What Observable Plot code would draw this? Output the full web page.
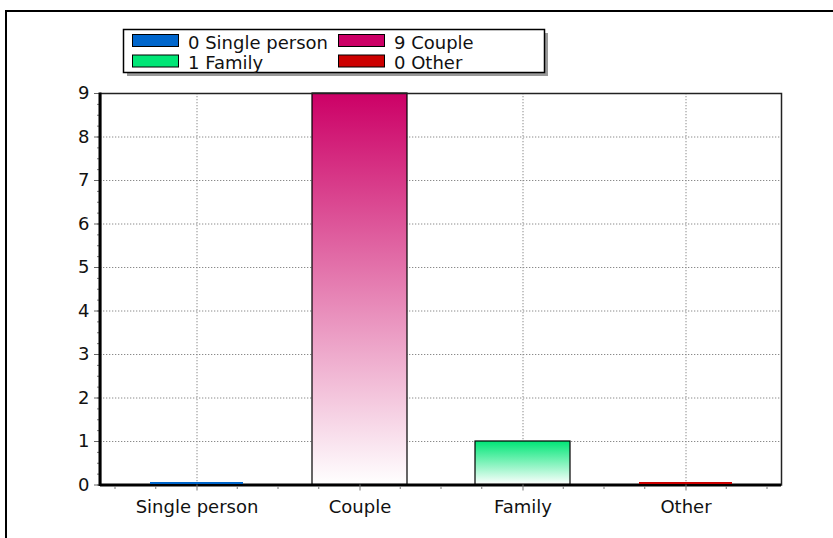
<!DOCTYPE html>
<html><head><meta charset="utf-8">
<script src="https://cdn.jsdelivr.net/npm/d3@7"></script>
<script src="https://cdn.jsdelivr.net/npm/@observablehq/plot@0.6"></script>
<style>
html,body{margin:0;padding:0;background:#fff;overflow:hidden;}
#chart{position:relative;width:833px;height:538px;overflow:hidden;}
</style></head><body>
<svg id="defs" width="0" height="0" style="position:absolute"><defs></defs></svg>
<div id="chart"></div>
<script>
const categories = ["Single person", "Couple", "Family", "Other"];
const counts = [0, 9, 1, 0];
const colors = ["#0066cc", "#cc0066", "#00e676", "#cc0000"];
const yTicks = [0, 1, 2, 3, 4, 5, 6, 7, 8, 9];
const legendLabels = categories.map((c, i) => `${counts[i]} ${c}`);

const FONT = "'DejaVu Sans', Verdana, sans-serif";

// gradients (top colour -> white)
const defs = d3.select("#defs defs");
colors.forEach((c, i) => {
  const g = defs.append("linearGradient").attr("id", "grad" + i)
    .attr("x1", 0).attr("y1", 0).attr("x2", 0).attr("y2", 1);
  g.append("stop").attr("offset", 0).attr("stop-color", c);
  g.append("stop").attr("offset", 1).attr("stop-color", "#ffffff");
});

const data = categories.map((c, i) => ({category: c, count: counts[i], color: colors[i], fill: `url(#grad${i})`}));
const minorY = d3.range(0, 9.001, 0.25);

const chart = Plot.plot({
  width: 833, height: 538,
  marginTop: 93, marginBottom: 53.5, marginLeft: 100, marginRight: 52,
  style: {fontFamily: FONT, fontSize: "18px", color: "#111", background: "transparent"},
  x: {domain: categories, padding: 0, insetLeft: 14, insetRight: 13, label: null},
  y: {domain: [0, 9], label: null},
  color: {type: "identity"},
  marks: [
    Plot.gridY(yTicks, {stroke: "#8a8a8a", strokeOpacity: 1, strokeDasharray: "1.3,1.7"}),
    Plot.gridX({stroke: "#8a8a8a", strokeOpacity: 1, strokeDasharray: "1.3,1.7"}),
    Plot.barY(data.filter(d => d.count > 0), {x: "category", y: "count", fill: "fill", stroke: "#000", strokeWidth: 1.2, insetLeft: 34, insetRight: 34}),
    Plot.frame({stroke: "#222", strokeWidth: 1.5}),
    Plot.ruleY([0], {stroke: "#000", strokeWidth: 3}),
    Plot.tickY(data.filter(d => d.count === 0), {x: "category", y: "count", stroke: "color", strokeWidth: 1.8, insetLeft: 35, insetRight: 35, dy: -2}),
    Plot.axisY(minorY, {tickSize: 3, tickFormat: () => "", stroke: "#777", label: null}),
    Plot.axisY(yTicks, {tickSize: 6, tickPadding: 5, stroke: "#666", label: null}),
    Plot.axisX({tickSize: 6, tickPadding: 9, stroke: "#777", label: null})
  ]
});

document.getElementById("chart").appendChild(chart);
const svg = d3.select(chart);

// minor x ticks at quarter-band positions
const xs = chart.scale("x");
const bw = xs.bandwidth;
const minorX = [];
categories.forEach((c, i) => {
  const s = xs.apply(c);
  minorX.push(s, s + bw / 4, s + 3 * bw / 4);
  if (i === categories.length - 1) minorX.push(s + bw);
});
svg.append("g").selectAll("line").data(minorX).join("line")
  .attr("x1", d => d).attr("x2", d => d).attr("y1", 486).attr("y2", 489)
  .attr("stroke", "#777").attr("stroke-width", 1);

// thick left axis line
svg.append("line").attr("x1", 100).attr("x2", 100).attr("y1", 92.5).attr("y2", 486)
  .attr("stroke", "#000").attr("stroke-width", 3);

// outer frame (only top and left edges are inside the picture)
svg.append("path").attr("d", "M6,545V11H840")
  .attr("fill", "none").attr("stroke", "#000").attr("stroke-width", 2);

// legend
const lg = svg.append("g").attr("font-family", FONT).attr("font-size", 18).attr("text-anchor", "start");
lg.append("rect").attr("x", 127).attr("y", 33).attr("width", 421).attr("height", 43)
  .attr("fill", "#999");
lg.append("rect").attr("x", 123.5).attr("y", 29.5).attr("width", 421).attr("height", 43)
  .attr("fill", "#fff").attr("stroke", "#000").attr("stroke-width", 1.5);
const order = [0, 1, 2, 3];
const colX = [132, 338], rowY = [34, 54.5];
order.forEach((k, j) => {
  const x = colX[j % 2], y = rowY[Math.floor(j / 2)];
  lg.append("rect").attr("x", x + 0.5).attr("y", y + 0.5).attr("width", 46).attr("height", 12)
    .attr("fill", colors[k]).attr("stroke", "#000").attr("stroke-width", 1);
  lg.append("text").attr("x", x + 56).attr("y", y + 14.5).attr("fill", "#111")
    .attr("text-anchor", "start").text(legendLabels[k]);
});
</script>
</body></html>
